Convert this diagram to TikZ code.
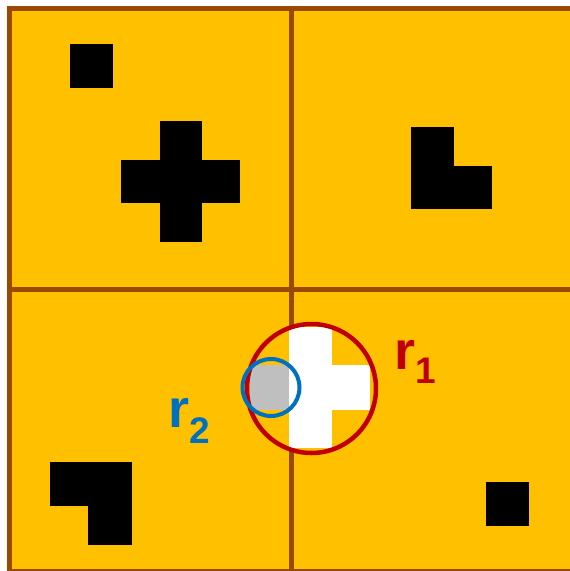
\documentclass[tikz,border=0pt]{standalone}
\usepackage{fontspec}
\setmainfont{Liberation Sans}
\usepackage{tikz}

\definecolor{cellfill}{HTML}{FFC000}
\definecolor{gridbrown}{HTML}{9A4A00}
\definecolor{ringred}{HTML}{C00000}
\definecolor{ringblue}{HTML}{0070C0}
\definecolor{hitgray}{HTML}{BFBFBF}

\begin{document}
\begin{tikzpicture}[x=1pt, y=-1pt,
    gridline/.style={gridbrown, line width=5pt},
    block/.style={fill=black},
    radiuslabel/.style={anchor=base west, inner sep=0pt, font=\bfseries\fontsize{54}{60}\selectfont}]
    \useasboundingbox (0,0) rectangle (570,571);
    \clip (0,0) rectangle (570,571);

    % Cells
    \fill[cellfill] (9.5,8) rectangle (572.5,571);

    % Black blocks
    \fill[block] (70,44) rectangle (113,88);
    \fill[block] (160,121) rectangle (202,242);
    \fill[block] (121,160) rectangle (240,203);
    \fill[block] (411,127) rectangle (454,209);
    \fill[block] (454,166) rectangle (492,209);
    \fill[block] (50,462) rectangle (132,506);
    \fill[block] (88,506) rectangle (132,545);
    \fill[block] (486,482) rectangle (529,526);

    % Grid
    \draw[gridline] (9.5,8) rectangle (572.5,571);
    \draw[gridline] (291,8) -- (291,571);
    \draw[gridline] (9.5,289.5) -- (572.5,289.5);

    % Query regions
    \begin{scope}
        \clip (311.5,388.5) circle (64.5);
        \fill[white] (289,327) rectangle (332,448);
        \fill[white] (332,365) rectangle (370,410);
    \end{scope}
    \begin{scope}
        \clip (271,387.5) circle (28.5);
        \fill[hitgray] (250,365) rectangle (289,410);
    \end{scope}
    \draw[ringred, line width=4.5pt] (311.5,388.5) circle (64.5);
    \draw[ringblue, line width=4pt] (271,387.5) circle (28.5);

    % Labels
    \node[radiuslabel, text=ringred] (lblrone) at (394,369) {r\raisebox{-14pt}{\fontsize{37}{40}\selectfont 1}};
    \node[radiuslabel, text=ringblue] (lblrtwo) at (168,427) {r\raisebox{-16pt}{\fontsize{37}{40}\selectfont 2}};
\end{tikzpicture}
\end{document}
